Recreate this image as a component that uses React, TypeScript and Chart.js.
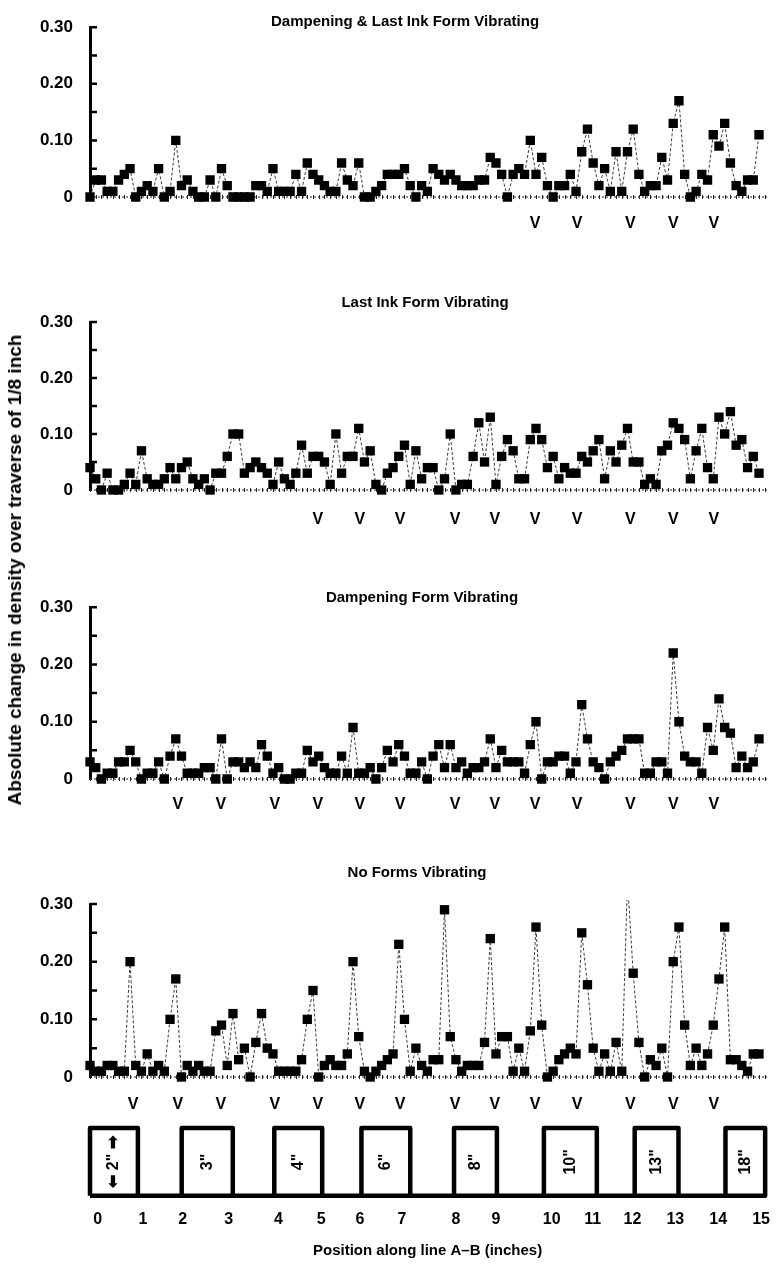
import React, { useEffect, useRef } from 'react';
import { Chart, registerables } from 'chart.js';

Chart.register(...registerables);

const FONT = '"Liberation Sans", Arial, Helvetica, sans-serif';

// ---------- data (absolute density change per 1/8 inch step) ----------
const dampAndLastInk: number[] = [
  0, 0.03, 0.03, 0.01, 0.01, 0.03, 0.04, 0.05, 0, 0.01, 0.02, 0.01, 0.05, 0, 0.01, 0.10, 0.02, 0.03, 0.01, 0,
  0, 0.03, 0, 0.05, 0.02, 0, 0, 0, 0, 0.02, 0.02, 0.01, 0.05, 0.01, 0.01, 0.01, 0.04, 0.01, 0.06, 0.04,
  0.03, 0.02, 0.01, 0.01, 0.06, 0.03, 0.02, 0.06, 0, 0, 0.01, 0.02, 0.04, 0.04, 0.04, 0.05, 0.02, 0, 0.02, 0.01,
  0.05, 0.04, 0.03, 0.04, 0.03, 0.02, 0.02, 0.02, 0.03, 0.03, 0.07, 0.06, 0.04, 0, 0.04, 0.05, 0.04, 0.10, 0.04, 0.07,
  0.02, 0, 0.02, 0.02, 0.04, 0.01, 0.08, 0.12, 0.06, 0.02, 0.05, 0.01, 0.08, 0.01, 0.08, 0.12, 0.04, 0.01, 0.02, 0.02,
  0.07, 0.03, 0.13, 0.17, 0.04, 0, 0.01, 0.04, 0.03, 0.11, 0.09, 0.13, 0.06, 0.02, 0.01, 0.03, 0.03, 0.11,
];

const lastInk: number[] = [
  0.04, 0.02, 0, 0.03, 0, 0, 0.01, 0.03, 0.01, 0.07, 0.02, 0.01, 0.01, 0.02, 0.04, 0.02, 0.04, 0.05, 0.02, 0.01,
  0.02, 0, 0.03, 0.03, 0.06, 0.10, 0.10, 0.03, 0.04, 0.05, 0.04, 0.03, 0.01, 0.05, 0.02, 0.01, 0.03, 0.08, 0.03, 0.06,
  0.06, 0.05, 0.01, 0.10, 0.03, 0.06, 0.06, 0.11, 0.05, 0.07, 0.01, 0, 0.03, 0.04, 0.06, 0.08, 0.01, 0.07, 0.02, 0.04,
  0.04, 0, 0.02, 0.10, 0, 0.01, 0.01, 0.06, 0.12, 0.05, 0.13, 0.01, 0.06, 0.09, 0.07, 0.02, 0.02, 0.09, 0.11, 0.09,
  0.04, 0.06, 0.02, 0.04, 0.03, 0.03, 0.06, 0.05, 0.07, 0.09, 0.02, 0.07, 0.05, 0.08, 0.11, 0.05, 0.05, 0.01, 0.02, 0.01,
  0.07, 0.08, 0.12, 0.11, 0.09, 0.02, 0.07, 0.11, 0.04, 0.02, 0.13, 0.10, 0.14, 0.08, 0.09, 0.04, 0.06, 0.03,
];

const dampening: number[] = [
  0.03, 0.02, 0, 0.01, 0.01, 0.03, 0.03, 0.05, 0.03, 0, 0.01, 0.01, 0.03, 0, 0.04, 0.07, 0.04, 0.01, 0.01, 0.01,
  0.02, 0.02, 0, 0.07, 0, 0.03, 0.03, 0.02, 0.03, 0.02, 0.06, 0.04, 0.01, 0.02, 0, 0, 0.01, 0.01, 0.05, 0.03,
  0.04, 0.02, 0.01, 0.01, 0.04, 0.01, 0.09, 0.01, 0.01, 0.02, 0, 0.02, 0.05, 0.03, 0.06, 0.04, 0.01, 0.01, 0.03, 0,
  0.04, 0.06, 0.02, 0.06, 0.02, 0.03, 0.01, 0.02, 0.02, 0.03, 0.07, 0.02, 0.05, 0.03, 0.03, 0.03, 0.01, 0.06, 0.10, 0,
  0.03, 0.03, 0.04, 0.04, 0.01, 0.03, 0.13, 0.07, 0.03, 0.02, 0, 0.03, 0.04, 0.05, 0.07, 0.07, 0.07, 0.01, 0.01, 0.03,
  0.03, 0.01, 0.22, 0.10, 0.04, 0.03, 0.03, 0.01, 0.09, 0.05, 0.14, 0.09, 0.08, 0.02, 0.04, 0.02, 0.03, 0.07,
];

const noForms: number[] = [
  0.02, 0.01, 0.01, 0.02, 0.02, 0.01, 0.01, 0.20, 0.02, 0.01, 0.04, 0.01, 0.02, 0.01, 0.10, 0.17, 0, 0.02, 0.01, 0.02,
  0.01, 0.01, 0.08, 0.09, 0.02, 0.11, 0.03, 0.05, 0, 0.06, 0.11, 0.05, 0.04, 0.01, 0.01, 0.01, 0.01, 0.03, 0.10, 0.15,
  0, 0.02, 0.03, 0.02, 0.02, 0.04, 0.20, 0.07, 0.01, 0, 0.01, 0.02, 0.03, 0.04, 0.23, 0.10, 0.01, 0.05, 0.02, 0.01,
  0.03, 0.03, 0.29, 0.07, 0.03, 0.01, 0.02, 0.02, 0.02, 0.06, 0.24, 0.04, 0.07, 0.07, 0.01, 0.05, 0.01, 0.08, 0.26, 0.09,
  0, 0.01, 0.03, 0.04, 0.05, 0.04, 0.25, 0.16, 0.05, 0.01, 0.04, 0.01, 0.06, 0.01, 0.34, 0.18, 0.06, 0, 0.03, 0.02,
  0.05, 0, 0.20, 0.26, 0.09, 0.02, 0.05, 0.02, 0.04, 0.09, 0.17, 0.26, 0.03, 0.03, 0.02, 0.01, 0.04, 0.04,
];

const STEP_INCH = 1 / 8;
const X_MIN = 0;
const X_MAX = 14.8;

const Y_MIN = 0;
const Y_MAX = 0.3;
const Y_STEP = 0.05;

// "V" marks (inches)
const vMarksAll: number[] = [0.94, 1.92, 2.86, 4.04, 4.98, 5.9, 6.78, 7.98, 8.85, 9.73, 10.65, 11.81, 12.75, 13.64];
const vMarksP1: number[] = [9.73, 10.65, 11.81, 12.75, 13.64];
const vMarksP2: number[] = [4.98, 5.9, 6.78, 7.98, 8.85, 9.73, 10.65, 11.81, 12.75, 13.64];
const vMarksP3: number[] = [1.92, 2.86, 4.04, 4.98, 5.9, 6.78, 7.98, 8.85, 9.73, 10.65, 11.81, 12.75, 13.64];
const vMarksP4: number[] = vMarksAll;

// bottom diagram
const bottomTickPositions: number[] = [0.17, 1.16, 2.03, 3.04, 4.13, 5.07, 5.92, 6.84, 8.02, 8.9, 10.12, 11.02, 11.89, 12.83, 13.77, 14.71];
const bottomTickLabels: string[] = ['0', '1', '2', '3', '4', '5', '6', '7', '8', '9', '10', '11', '12', '13', '14', '15'];
const stripStarts: number[] = [0, 2.01, 4.04, 5.95, 7.98, 9.95, 11.94, 13.93];
const stripEnds: number[] = [1.05, 3.13, 5.09, 7.02, 8.92, 11.11, 12.9, 14.8];
const stripLabels: string[] = ['\u2B05 2" \u27A1', '3"', '4"', '6"', '8"', '10"', '13"', '18"'];

type PanelProps = {
  values: number[];
  title: string;
  vMarks: number[];
  top: number;
  height: number;
  padTop: number;
  padBottom: number;
  titleX: number;
  titleDy: number;
  vDy: number;
};

function Panel(p: PanelProps) {
  const ref = useRef<HTMLCanvasElement | null>(null);
  useEffect(() => {
    if (!ref.current) return;
    const deco = {
      id: 'panelDeco',
      beforeDatasetsDraw(chart: any) {
        const { ctx, chartArea, scales } = chart;
        const x = scales.x;
        const y = scales.y;
        const y0 = y.getPixelForValue(0);
        ctx.save();
        ctx.strokeStyle = '#222';
        ctx.lineWidth = 1;
        ctx.setLineDash([2, 2]);
        ctx.beginPath();
        ctx.moveTo(chartArea.left, y0);
        ctx.lineTo(chartArea.right, y0);
        ctx.stroke();
        ctx.setLineDash([]);
        ctx.beginPath();
        for (let i = 0; i * STEP_INCH <= X_MAX; i++) {
          const px = Math.round(x.getPixelForValue(i * STEP_INCH)) + 0.5;
          ctx.moveTo(px, y0 - 2);
          ctx.lineTo(px, y0 + 2);
        }
        ctx.stroke();
        ctx.lineWidth = 2.5;
        ctx.strokeStyle = '#000';
        ctx.beginPath();
        for (let v = Y_STEP; v <= Y_MAX + 1e-9; v += Y_STEP) {
          const py = y.getPixelForValue(v);
          ctx.moveTo(chartArea.left, py);
          ctx.lineTo(chartArea.left + 7, py);
        }
        ctx.stroke();
        ctx.restore();
      },
      afterDraw(chart: any) {
        const { ctx, chartArea, scales } = chart;
        const x = scales.x;
        const y = scales.y;
        const y0 = y.getPixelForValue(0);
        ctx.save();
        ctx.fillStyle = '#000';
        ctx.textAlign = 'center';
        ctx.textBaseline = 'middle';
        ctx.font = `bold 15px ${FONT}`;
        ctx.fillText(p.title, p.titleX, chartArea.top - p.titleDy);
        ctx.font = `bold 16px ${FONT}`;
        p.vMarks.forEach((m) => {
          ctx.fillText('V', x.getPixelForValue(m), y0 + p.vDy);
        });
        ctx.restore();
      },
    };
    const chart = new Chart(ref.current, {
      type: 'line',
      data: {
        datasets: [
          {
            data: p.values.map((v, i) => ({ x: i * STEP_INCH, y: v })),
            borderColor: '#3a3a3a',
            borderWidth: 1,
            borderDash: [3, 2],
            pointStyle: 'rect',
            pointRadius: 6.6,
            pointBackgroundColor: '#000',
            pointBorderColor: '#000',
            pointBorderWidth: 0,
            tension: 0,
            fill: false,
            clip: { left: 10, right: 10, top: 4, bottom: 10 },
          } as any,
        ],
      },
      options: {
        responsive: false,
        animation: false,
        events: [],
        layout: { padding: { top: p.padTop, bottom: p.padBottom, left: 0, right: 9 } },
        scales: {
          x: { type: 'linear', min: X_MIN, max: X_MAX, display: false },
          y: {
            type: 'linear',
            min: Y_MIN,
            max: Y_MAX,
            afterFit: (s: any) => {
              s.width = 90;
            },
            ticks: {
              stepSize: Y_STEP,
              padding: 17,
              color: '#000',
              font: { family: FONT, size: 17, weight: 'bold' },
              callback: (v: any) => {
                const r = Math.round(Number(v) * 100);
                if (r === 0) return '0';
                if (r % 10 === 0) return (r / 100).toFixed(2);
                return '';
              },
            },
            grid: { display: true, drawOnChartArea: false, drawTicks: false },
            border: { display: true, color: '#000', width: 3 },
          },
        },
        plugins: { legend: { display: false }, tooltip: { enabled: false }, title: { display: false } },
      } as any,
      plugins: [deco],
    });
    return () => chart.destroy();
  }, []);
  return (
    <canvas
      ref={ref}
      width={776}
      height={p.height}
      style={{ position: 'absolute', left: 0, top: p.top, width: 776, height: p.height, display: 'block' }}
    />
  );
}

function StripDiagram() {
  const ref = useRef<HTMLCanvasElement | null>(null);
  useEffect(() => {
    if (!ref.current) return;
    const labelsPlugin = {
      id: 'stripLabels',
      afterDatasetsDraw(chart: any) {
        const { ctx, chartArea, scales } = chart;
        const x = scales.x;
        const cy = (chartArea.top + chartArea.bottom) / 2;
        ctx.save();
        ctx.fillStyle = '#000';
        ctx.font = `bold 16px ${FONT}`;
        ctx.textAlign = 'center';
        ctx.textBaseline = 'middle';
        stripLabels.forEach((lab, i) => {
          const cx = x.getPixelForValue((stripStarts[i] + stripEnds[i]) / 2);
          ctx.save();
          ctx.translate(cx, cy);
          ctx.rotate(-Math.PI / 2);
          ctx.fillText(lab, 0, 0);
          ctx.restore();
        });
        ctx.restore();
      },
    };
    const datasets: any[] = stripStarts.map((s, i) => ({
      data: [
        { x: s, y: 0 },
        { x: s, y: 1 },
        { x: stripEnds[i], y: 1 },
        { x: stripEnds[i], y: 0 },
      ],
      borderColor: '#000',
      borderWidth: 4.5,
      pointRadius: 0,
      fill: false,
      tension: 0,
      clip: false,
      borderJoinStyle: 'round',
      borderCapStyle: 'butt',
    }));
    datasets.push({
      data: [
        { x: X_MIN, y: 0 },
        { x: X_MAX, y: 0 },
      ],
      borderColor: '#000',
      borderWidth: 4.5,
      pointRadius: 0,
      fill: false,
      clip: false,
    });
    const chart = new Chart(ref.current, {
      type: 'line',
      data: { datasets },
      options: {
        responsive: false,
        animation: false,
        events: [],
        layout: { padding: { top: 18, bottom: 12, left: 90, right: 9 } },
        scales: {
          x: {
            type: 'linear',
            min: X_MIN,
            max: X_MAX,
            afterBuildTicks: (s: any) => {
              s.ticks = bottomTickPositions.map((v) => ({ value: v }));
            },
            ticks: {
              autoSkip: false,
              maxRotation: 0,
              padding: 6,
              color: '#000',
              font: { family: FONT, size: 16, weight: 'bold' },
              callback: (_v: any, i: number) => bottomTickLabels[i],
            },
            grid: { display: false },
            border: { display: false },
            title: {
              display: true,
              text: 'Position along line A\u2013B (inches)',
              color: '#000',
              font: { family: FONT, size: 15, weight: 'bold' },
              padding: { top: 7, bottom: 0 },
            },
          },
          y: { type: 'linear', min: 0, max: 1, display: false },
        },
        plugins: { legend: { display: false }, tooltip: { enabled: false } },
      } as any,
      plugins: [labelsPlugin],
    });
    return () => chart.destroy();
  }, []);
  return (
    <canvas
      ref={ref}
      width={776}
      height={162}
      style={{ position: 'absolute', left: 0, top: 1110, width: 776, height: 162, display: 'block' }}
    />
  );
}

export default function App() {
  return (
    <div style={{ position: 'absolute', left: 0, top: 0, width: 776, height: 1272, background: '#fff', overflow: 'hidden' }}>
      <Panel values={dampAndLastInk} title="Dampening & Last Ink Form Vibrating" vMarks={vMarksP1}
        top={0} height={240} padTop={17} padBottom={43} titleX={405} titleDy={5} vDy={27} />
      <Panel values={lastInk} title="Last Ink Form Vibrating" vMarks={vMarksP2}
        top={290} height={250} padTop={32} padBottom={50} titleX={425} titleDy={19} vDy={30} />
      <Panel values={dampening} title="Dampening Form Vibrating" vMarks={vMarksP3}
        top={580} height={240} padTop={25} padBottom={41} titleX={422} titleDy={9} vDy={26} />
      <Panel values={noForms} title="No Forms Vibrating" vMarks={vMarksP4}
        top={860} height={250} padTop={44} padBottom={33} titleX={417} titleDy={31} vDy={28} />
      <StripDiagram />
      <div
        style={{
          position: 'absolute',
          left: 15,
          top: 570,
          transform: 'translate(-50%, -50%) rotate(-90deg)',
          whiteSpace: 'nowrap',
          fontFamily: FONT,
          fontWeight: 'bold',
          fontSize: 19,
          color: '#000',
        }}
      >
        Absolute change in density over traverse of 1/8 inch
      </div>
    </div>
  );
}
